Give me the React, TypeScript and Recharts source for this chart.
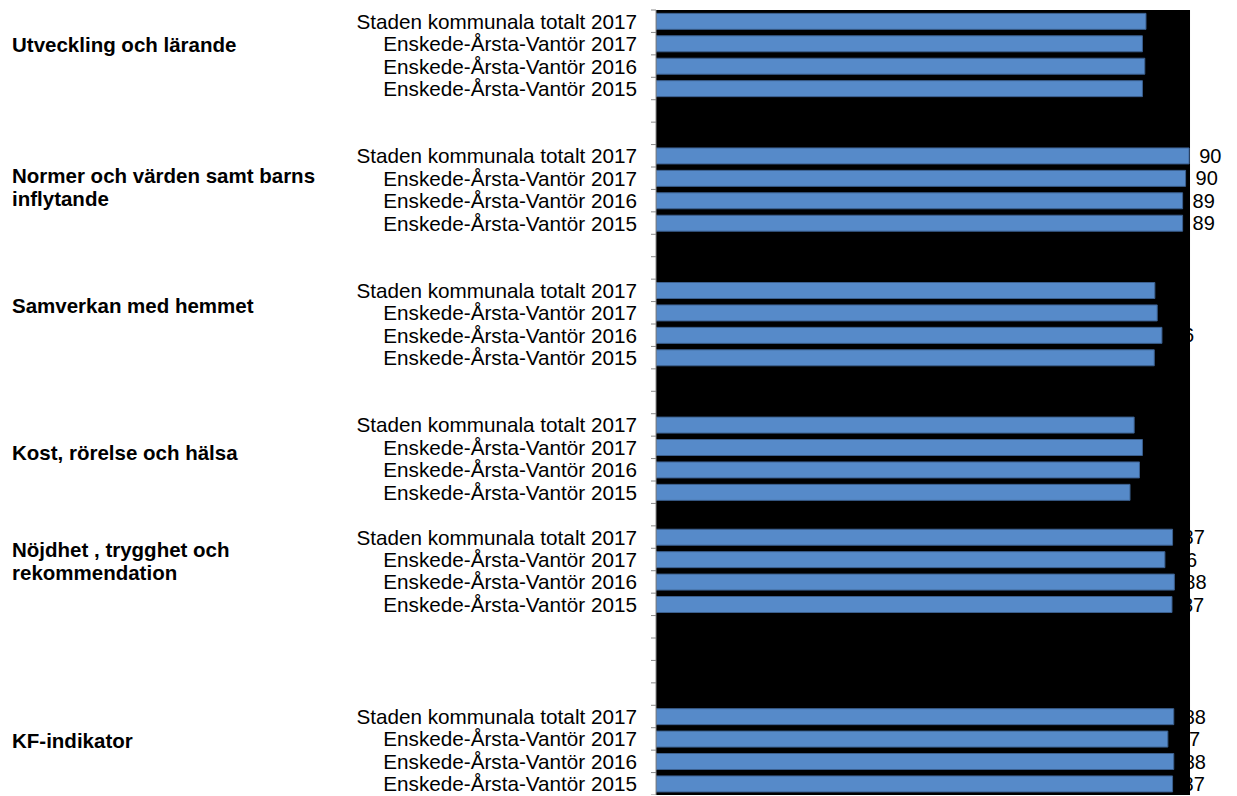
import React from "react";
import { BarChart, Bar, XAxis, YAxis, ReferenceArea, LabelList } from "recharts";

const SERIES = [
  "Staden kommunala totalt 2017",
  "Enskede-Årsta-Vantör 2017",
  "Enskede-Årsta-Vantör 2016",
  "Enskede-Årsta-Vantör 2015",
];

const GROUPS = [
  "Utveckling och lärande",
  "Normer och värden samt barns inflytande",
  "Samverkan med hemmet",
  "Kost, rörelse och hälsa",
  "Nöjdhet , trygghet och rekommendation",
  "KF-indikator",
];

const UTVECKLING = [82.9, 82.3, 82.7, 82.3];
const NORMER = [90.2, 89.6, 89.1, 89.1];
const SAMVERKAN = [84.4, 84.8, 85.6, 84.3];
const KOST = [80.9, 82.3, 81.8, 80.2];
const NOJDHET = [87.4, 86.1, 87.7, 87.3];
const KF = [87.6, 86.6, 87.6, 87.4];

// empty category slots between the groups
const GAPS = [2, 2, 2, 1, 4];

const VALUES = [UTVECKLING, NORMER, SAMVERKAN, KOST, NOJDHET, KF];

type Row = { id: string; label: string; value: number | null };

const rows: Row[] = [];
VALUES.forEach((vals, g) => {
  vals.forEach((v, i) => rows.push({ id: `g${g}s${i}`, label: SERIES[i], value: v }));
  for (let k = 0; k < (GAPS[g] ?? 0); k++) rows.push({ id: `g${g}gap${k}`, label: "", value: null });
});

const W = 1237;
const H = 795;
const TOP = 10;
const AXIS_W = 656;
const X_MAX = 98.3;
const PLOT_MAX = 90.35;
const BAND = (H - TOP) / rows.length;

const GROUP_TOPS = [33, 164, 294, 441, 538, 729];

function CatTick(props: any) {
  const { x, y, index } = props;
  const row = rows[index];
  return (
    <g>
      <line x1={x - 5} x2={x} y1={y - BAND / 2} y2={y - BAND / 2} stroke="#8a8a8a" />
      {index === rows.length - 1 && (
        <line x1={x - 5} x2={x} y1={y + BAND / 2} y2={y + BAND / 2} stroke="#8a8a8a" />
      )}
      {row && row.label && (
        <text
          x={x - 19}
          y={y}
          textAnchor="end"
          dominantBaseline="central"
          fontSize={20.7}
          fill="#000"
          fontFamily="'Liberation Sans', Arial, sans-serif"
        >
          {row.label}
        </text>
      )}
    </g>
  );
}

export default function App() {
  return (
    <div
      style={{
        position: "fixed",
        left: 0,
        top: 0,
        width: W,
        height: 796,
        overflow: "hidden",
        background: "#fff",
        fontFamily: "'Liberation Sans', Arial, sans-serif",
      }}
    >
      <BarChart
        width={W}
        height={H}
        data={rows}
        layout="vertical"
        margin={{ top: TOP, right: 0, bottom: 0, left: 0 }}
        barCategoryGap="15%"
      >
        <XAxis
          type="number"
          orientation="top"
          domain={[0, X_MAX]}
          allowDataOverflow
          height={0}
          tick={false}
          tickLine={false}
          axisLine={{ stroke: "#9a9a9a", strokeWidth: 2 }}
        />
        <YAxis
          type="category"
          dataKey="id"
          width={AXIS_W}
          interval={0}
          tickSize={0}
          tickMargin={0}
          tickLine={false}
          axisLine={{ stroke: "#8a8a8a" }}
          tick={<CatTick />}
        />
        <ReferenceArea x1={0} x2={PLOT_MAX} fill="#000" fillOpacity={1} stroke="none" />
        <Bar dataKey="value" fill="#568ac9" stroke="#3b5f8e" strokeWidth={1} isAnimationActive={false}>
          <LabelList
            dataKey="value"
            position="right"
            offset={10}
            fill="#000"
            fontSize={20}
            formatter={(v: any) => (v == null ? "" : String(Math.round(v)))}
          />
        </Bar>
      </BarChart>
      {GROUPS.map((g, i) => (
        <div
          key={g}
          style={{
            position: "absolute",
            left: 12,
            top: GROUP_TOPS[i],
            width: 330,
            fontSize: 20.5,
            lineHeight: "23px",
            fontWeight: "bold",
            color: "#000",
          }}
        >
          {g}
        </div>
      ))}
    </div>
  );
}
